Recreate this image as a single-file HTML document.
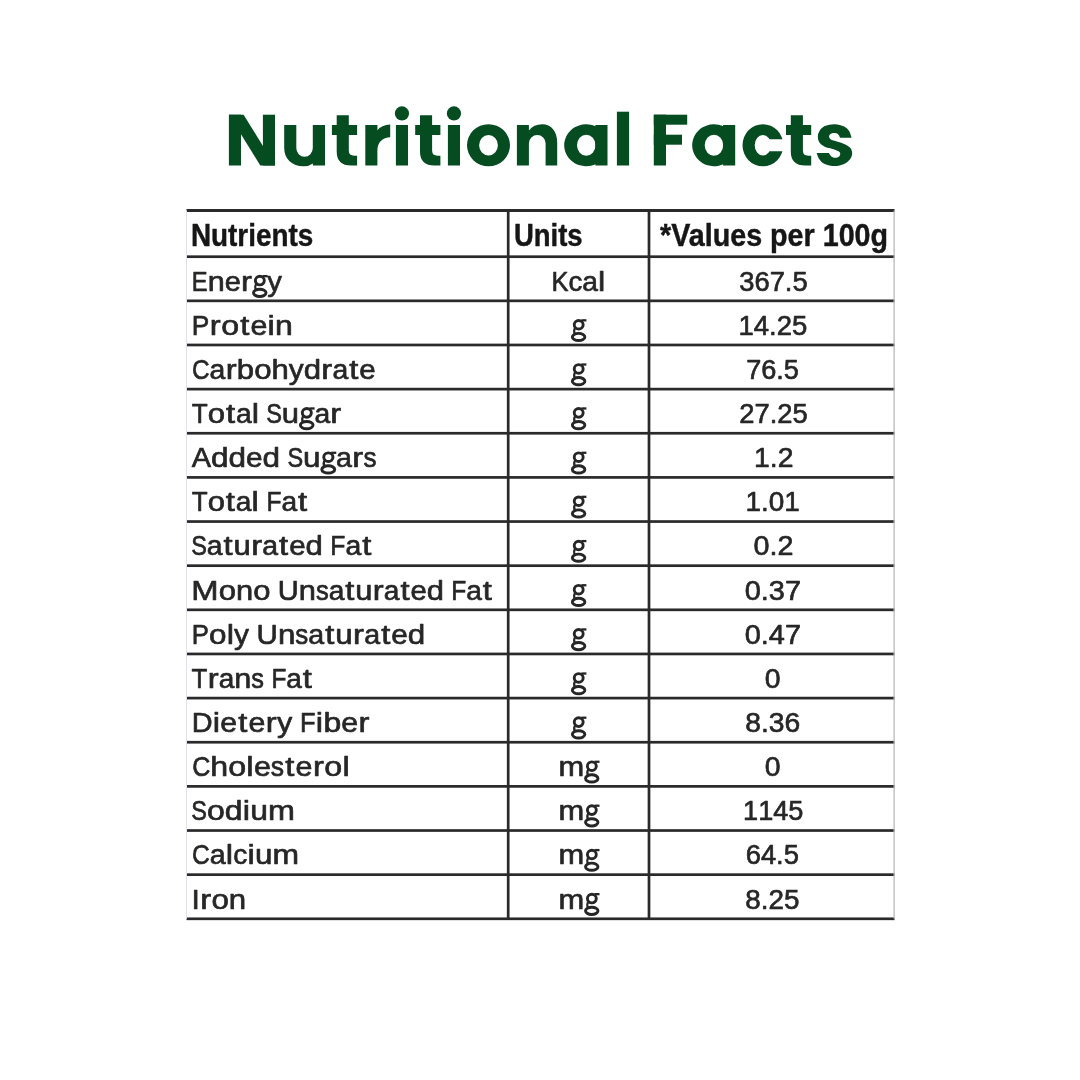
<!DOCTYPE html>
<html><head><meta charset="utf-8"><title>Nutritional Facts</title>
<style>
html,body{margin:0;padding:0;background:#fff;}
body{width:1080px;height:1080px;overflow:hidden;font-family:"Liberation Sans",sans-serif;}
svg{display:block;font-family:"Liberation Sans",sans-serif;}
</style></head>
<body>
<svg width="1080" height="1080" viewBox="0 0 1080 1080">
<rect width="1080" height="1080" fill="#ffffff"/>
<g id="title" fill="#054c20">
<rect x="228.90" y="114.70" width="12.10" height="50.80"/>
<rect x="262.90" y="114.70" width="12.10" height="50.80"/>
<path d="M228.9,114.7 H243.6 L275,165.5 H260.3 Z"/>
<path d="M284.2,125 H296.3 V148.0 A8.25,8.7 0 0 0 312.8,148.0 V125 H325 V165.5 H312.9 V163.4 Q309,166.3 303.5,166.3 C292,166.3 284.2,158.8 284.2,148 Z"/>
<path d="M336.70,115.3 H348.80 V125 H357.10 V135 H348.80 V150.6 Q348.80,155.8 354.20,155.8 H357.10 V165.5 H351.20 Q336.70,165.5 336.70,151.5 V135 H331.90 V125 H336.70 Z"/>
<rect x="365.30" y="125.00" width="12.10" height="40.50"/>
<path d="M372,130.5 H377.0 Q381.5,124.9 390.2,124.4 V137.2 Q378.8,137.8 377.0,149.6 H372 Z"/>
<rect x="395.90" y="125.00" width="12.10" height="40.50"/><circle cx="401.95" cy="113.4" r="7.1"/>
<path d="M420.00,115.3 H432.10 V125 H440.40 V135 H432.10 V150.6 Q432.10,155.8 437.50,155.8 H440.40 V165.5 H434.50 Q420.00,165.5 420.00,151.5 V135 H415.20 V125 H420.00 Z"/>
<rect x="447.90" y="125.00" width="12.10" height="40.50"/><circle cx="453.95" cy="113.4" r="7.1"/>
<path fill-rule="evenodd" d="M467.00,145.25 A21.50,21.05 0 1 0 510.00,145.25 A21.50,21.05 0 1 0 467.00,145.25 Z M479.10,145.25 A9.40,10.25 0 1 1 497.90,145.25 A9.40,10.25 0 1 1 479.10,145.25 Z"/>
<path d="M516.9,125 H528.9 V130.6 Q533.6,124.3 542.2,124.3 C551.2,124.3 557.2,131.5 557.2,142.5 V165.5 H545.6 V143.3 A8.35,8.3 0 0 0 528.9,143.3 V165.5 H516.9 Z"/>
<path fill-rule="evenodd" d="M596.20,126.51 A22.05,21.0 0 1 0 596.20,163.99 Z M577.00,145.25 A9.25,10.5 0 1 1 595.50,145.25 A9.25,10.5 0 1 1 577.00,145.25 Z"/><rect x="595.40" y="125.00" width="12.10" height="40.50"/>
<rect x="616.90" y="111.70" width="12.20" height="53.80"/>
<rect x="653.80" y="114.70" width="12.20" height="50.80"/>
<rect x="653.80" y="114.70" width="33.40" height="10.00"/>
<rect x="653.80" y="134.70" width="28.20" height="10.00"/>
<path fill-rule="evenodd" d="M723.90,126.58 A21.75,21.0 0 1 0 723.90,163.92 Z M704.70,145.25 A9.25,10.5 0 1 1 723.20,145.25 A9.25,10.5 0 1 1 704.70,145.25 Z"/><rect x="723.10" y="125.00" width="12.10" height="40.50"/>
<g clip-path="url(#cclip)"><path fill-rule="evenodd" d="M742.50,145.25 A20.40,21.05 0 1 0 783.30,145.25 A20.40,21.05 0 1 0 742.50,145.25 Z M754.70,145.25 A8.20,10.25 0 1 1 771.10,145.25 A8.20,10.25 0 1 1 754.70,145.25 Z"/></g>
<path d="M790.80,115.3 H802.90 V125 H811.20 V135 H802.90 V150.6 Q802.90,155.8 808.30,155.8 H811.20 V165.5 H805.30 Q790.80,165.5 790.80,151.5 V135 H786.00 V125 H790.80 Z"/>
<path d="M851.61,137.78 C851.19,136.67 850.36,133.01 849.11,131.11 C847.86,129.21 846.52,127.55 844.11,126.39 C841.70,125.23 837.91,124.21 834.67,124.17 C831.43,124.12 827.26,124.86 824.67,126.11 C822.07,127.36 820.24,129.81 819.11,131.67 C817.98,133.52 817.80,135.37 817.89,137.22 C817.98,139.07 818.54,141.20 819.67,142.78 C820.80,144.35 822.91,145.74 824.67,146.67 C826.43,147.59 828.19,147.69 830.22,148.33 C832.26,148.98 835.31,149.91 836.89,150.56 C838.46,151.20 839.11,151.67 839.67,152.22 C840.22,152.78 840.31,153.19 840.22,153.89 C840.13,154.58 839.94,155.74 839.11,156.39 C838.28,157.04 836.52,157.78 835.22,157.78 C833.93,157.78 832.40,157.18 831.33,156.39 C830.27,155.60 829.25,153.61 828.83,153.06 L816.61,153.06 C817.03,154.03 817.77,157.08 819.11,158.89 C820.45,160.69 822.07,162.69 824.67,163.89 C827.26,165.09 831.43,166.11 834.67,166.11 C837.91,166.11 841.52,165.09 844.11,163.89 C846.70,162.69 848.88,160.65 850.22,158.89 C851.56,157.13 852.17,155.19 852.17,153.33 C852.17,151.48 851.56,149.35 850.22,147.78 C848.88,146.20 846.33,144.95 844.11,143.89 C841.89,142.82 839.02,142.08 836.89,141.39 C834.76,140.69 832.58,140.32 831.33,139.72 C830.08,139.12 829.76,138.38 829.39,137.78 C829.02,137.18 828.97,136.71 829.11,136.11 C829.25,135.51 829.39,134.68 830.22,134.17 C831.06,133.66 832.81,133.06 834.11,133.06 C835.41,133.06 837.00,133.38 838.00,134.17 C839.00,134.95 839.76,137.18 840.11,137.78 Z"/>
</g>
<g id="table" filter="url(#soft)">
<rect x="186.5" y="210.5" width="708.0" height="708.30" fill="#ffffff"/>
<rect x="186.5" y="209.00" width="708.0" height="3.0" fill="#2a2a2a"/>
<rect x="186.5" y="255.35" width="708.0" height="2.7" fill="#2a2a2a"/>
<rect x="186.5" y="299.49" width="708.0" height="2.7" fill="#2a2a2a"/>
<rect x="186.5" y="343.63" width="708.0" height="2.7" fill="#2a2a2a"/>
<rect x="186.5" y="387.77" width="708.0" height="2.7" fill="#2a2a2a"/>
<rect x="186.5" y="431.91" width="708.0" height="2.7" fill="#2a2a2a"/>
<rect x="186.5" y="476.05" width="708.0" height="2.7" fill="#2a2a2a"/>
<rect x="186.5" y="520.19" width="708.0" height="2.7" fill="#2a2a2a"/>
<rect x="186.5" y="564.33" width="708.0" height="2.7" fill="#2a2a2a"/>
<rect x="186.5" y="608.47" width="708.0" height="2.7" fill="#2a2a2a"/>
<rect x="186.5" y="652.61" width="708.0" height="2.7" fill="#2a2a2a"/>
<rect x="186.5" y="696.75" width="708.0" height="2.7" fill="#2a2a2a"/>
<rect x="186.5" y="740.89" width="708.0" height="2.7" fill="#2a2a2a"/>
<rect x="186.5" y="785.03" width="708.0" height="2.7" fill="#2a2a2a"/>
<rect x="186.5" y="829.17" width="708.0" height="2.7" fill="#2a2a2a"/>
<rect x="186.5" y="873.31" width="708.0" height="2.7" fill="#2a2a2a"/>
<rect x="186.5" y="917.45" width="708.0" height="2.7" fill="#2a2a2a"/>
<rect x="506.85" y="210.5" width="2.7" height="708.30" fill="#2a2a2a"/>
<rect x="647.65" y="210.5" width="2.7" height="708.30" fill="#2a2a2a"/>
<rect x="186.0" y="210.5" width="1" height="708.30" fill="#dfe2ea"/>
<rect x="893.5" y="210.5" width="1.2" height="708.30" fill="#b4b4b4"/>
<g id="hdr" stroke="#161616" stroke-width="0.45" stroke-linejoin="round">
<text transform="translate(190.93 246.00) scale(0.8848 1)" font-size="31.5" font-weight="700" fill="#161616">Nutrients</text>
<text transform="translate(513.93 246.00) scale(0.8727 1)" font-size="31.5" font-weight="700" fill="#161616">Units</text>
<text transform="translate(660.00 246.00) scale(0.9111 1)" font-size="31.5" font-weight="700" fill="#161616">*Values per 100g</text>
</g>
<g id="body" font-size="28.0" fill="#262626" stroke="#262626" stroke-width="0.65" stroke-linejoin="round">
<text transform="translate(191.81 290.52) scale(0.8473 1.012)">E</text><text transform="translate(207.63 290.52) scale(1.0934 0.985)">n</text><text transform="translate(224.66 290.52) scale(1.0354 0.985)">e</text><text transform="translate(240.97 290.52) scale(1.1700 0.985)">r</text><use href="#cg" transform="translate(252.13 290.52) scale(0.9820 1)"/><text transform="translate(267.33 290.52) scale(1.0477 0.985)">y</text>
<text transform="translate(191.82 334.69) scale(0.9382 1.012)">P</text><text transform="translate(209.80 334.69) scale(1.1700 0.985)">r</text><text transform="translate(221.17 334.69) scale(1.1486 0.985)">o</text><text transform="translate(240.19 334.69) scale(1.1700 1.012)">t</text><text transform="translate(250.42 334.69) scale(1.0837 0.985)">e</text><text transform="translate(267.55 334.69) scale(1.1700 1.012)">i</text><text transform="translate(275.08 334.69) scale(1.1444 0.985)">n</text>
<text transform="translate(192.03 378.86) scale(0.8684 1.012)">C</text><text transform="translate(209.59 378.86) scale(1.0130 0.985)">a</text><text transform="translate(225.65 378.86) scale(1.1700 0.985)">r</text><text transform="translate(236.85 378.86) scale(1.1111 1.012)">b</text><text transform="translate(254.15 378.86) scale(1.1152 0.985)">o</text><text transform="translate(271.52 378.86) scale(1.1111 1.012)">h</text><text transform="translate(288.82 378.86) scale(1.0648 0.985)">y</text><text transform="translate(303.73 378.86) scale(1.1111 1.012)">d</text><text transform="translate(321.31 378.86) scale(1.1700 0.985)">r</text><text transform="translate(332.51 378.86) scale(1.0130 0.985)">a</text><text transform="translate(349.25 378.86) scale(1.1700 1.012)">t</text><text transform="translate(359.32 378.86) scale(1.0523 0.985)">e</text>
<text transform="translate(191.80 422.82) scale(0.9341 1.012)">T</text><text transform="translate(207.78 422.82) scale(1.1102 0.985)">o</text><text transform="translate(226.00 422.82) scale(1.1700 1.012)">t</text><text transform="translate(236.05 422.82) scale(1.0085 0.985)">a</text><text transform="translate(251.87 422.82) scale(1.1700 1.012)">l</text><text transform="translate(266.37 422.82) scale(0.8400 1.012)">S</text><text transform="translate(281.75 422.82) scale(1.1061 0.985)">u</text><use href="#cg" transform="translate(299.02 422.82) scale(0.9935 1)"/><text transform="translate(314.41 422.82) scale(1.0085 0.985)">a</text><text transform="translate(330.37 422.82) scale(1.1700 0.985)">r</text>
<text transform="translate(191.80 467.13) scale(1.0313 1.012)">A</text><text transform="translate(211.06 467.13) scale(1.1230 1.012)">d</text><text transform="translate(228.55 467.13) scale(1.1230 1.012)">d</text><text transform="translate(246.04 467.13) scale(1.0635 0.985)">e</text><text transform="translate(262.60 467.13) scale(1.1230 1.012)">d</text><text transform="translate(287.42 467.13) scale(0.8400 1.012)">S</text><text transform="translate(302.91 467.13) scale(1.1230 0.985)">u</text><use href="#cg" transform="translate(320.44 467.13) scale(1.0087 1)"/><text transform="translate(336.06 467.13) scale(1.0239 0.985)">a</text><text transform="translate(352.35 467.13) scale(1.1700 0.985)">r</text><text transform="translate(363.61 467.13) scale(0.9299 0.985)">s</text>
<text transform="translate(191.80 511.17) scale(0.9303 1.012)">T</text><text transform="translate(207.71 511.17) scale(1.1057 0.985)">o</text><text transform="translate(225.85 511.17) scale(1.1700 1.012)">t</text><text transform="translate(235.87 511.17) scale(1.0043 0.985)">a</text><text transform="translate(251.61 511.17) scale(1.1700 1.012)">l</text><text transform="translate(266.38 511.17) scale(0.8771 1.012)">F</text><text transform="translate(281.38 511.17) scale(1.0043 0.985)">a</text><text transform="translate(297.94 511.17) scale(1.1700 1.012)">t</text>
<text transform="translate(191.36 555.44) scale(0.8400 1.012)">S</text><text transform="translate(206.77 555.44) scale(1.0128 0.985)">a</text><text transform="translate(223.50 555.44) scale(1.1700 1.012)">t</text><text transform="translate(233.57 555.44) scale(1.1109 0.985)">u</text><text transform="translate(251.15 555.44) scale(1.1700 0.985)">r</text><text transform="translate(262.35 555.44) scale(1.0128 0.985)">a</text><text transform="translate(279.08 555.44) scale(1.1700 1.012)">t</text><text transform="translate(289.15 555.44) scale(1.0521 0.985)">e</text><text transform="translate(305.53 555.44) scale(1.1109 1.012)">d</text><text transform="translate(330.28 555.44) scale(0.8845 1.012)">F</text><text transform="translate(345.40 555.44) scale(1.0128 0.985)">a</text><text transform="translate(362.14 555.44) scale(1.1700 1.012)">t</text>
<text transform="translate(191.16 599.61) scale(1.1700 1.012)">M</text><text transform="translate(218.77 599.61) scale(1.1065 0.985)">o</text><text transform="translate(236.00 599.61) scale(1.1024 0.985)">n</text><text transform="translate(253.17 599.61) scale(1.1065 0.985)">o</text><text transform="translate(277.79 599.61) scale(1.0367 1.012)">U</text><text transform="translate(298.75 599.61) scale(1.1024 0.985)">n</text><text transform="translate(315.92 599.61) scale(0.9128 0.985)">s</text><text transform="translate(328.70 599.61) scale(1.0051 0.985)">a</text><text transform="translate(345.27 599.61) scale(1.1700 1.012)">t</text><text transform="translate(355.29 599.61) scale(1.1024 0.985)">u</text><text transform="translate(372.70 599.61) scale(1.1700 0.985)">r</text><text transform="translate(383.85 599.61) scale(1.0051 0.985)">a</text><text transform="translate(400.42 599.61) scale(1.1700 1.012)">t</text><text transform="translate(410.44 599.61) scale(1.0440 0.985)">e</text><text transform="translate(426.70 599.61) scale(1.1024 1.012)">d</text><text transform="translate(451.25 599.61) scale(0.8778 1.012)">F</text><text transform="translate(466.27 599.61) scale(1.0051 0.985)">a</text><text transform="translate(482.84 599.61) scale(1.1700 1.012)">t</text>
<text transform="translate(191.87 643.79) scale(0.9173 1.012)">P</text><text transform="translate(209.00 643.79) scale(1.1230 0.985)">o</text><text transform="translate(226.65 643.79) scale(1.1700 1.012)">l</text><text transform="translate(234.09 643.79) scale(1.0721 0.985)">y</text><text transform="translate(256.60 643.79) scale(1.0522 1.012)">U</text><text transform="translate(277.88 643.79) scale(1.1188 0.985)">n</text><text transform="translate(295.30 643.79) scale(0.9264 0.985)">s</text><text transform="translate(308.27 643.79) scale(1.0200 0.985)">a</text><text transform="translate(325.16 643.79) scale(1.1700 1.012)">t</text><text transform="translate(335.26 643.79) scale(1.1188 0.985)">u</text><text transform="translate(353.01 643.79) scale(1.1700 0.985)">r</text><text transform="translate(364.24 643.79) scale(1.0200 0.985)">a</text><text transform="translate(381.13 643.79) scale(1.1700 1.012)">t</text><text transform="translate(391.24 643.79) scale(1.0596 0.985)">e</text><text transform="translate(407.74 643.79) scale(1.1188 1.012)">d</text>
<text transform="translate(191.60 687.86) scale(0.9250 1.012)">T</text><text transform="translate(207.63 687.86) scale(1.1700 0.985)">r</text><text transform="translate(218.74 687.86) scale(0.9986 0.985)">a</text><text transform="translate(234.29 687.86) scale(1.0954 0.985)">n</text><text transform="translate(251.35 687.86) scale(0.9070 0.985)">s</text><text transform="translate(271.39 687.86) scale(0.8722 1.012)">F</text><text transform="translate(286.30 687.86) scale(0.9986 0.985)">a</text><text transform="translate(302.74 687.86) scale(1.1700 1.012)">t</text>
<text transform="translate(191.64 732.07) scale(1.0302 1.012)">D</text><text transform="translate(212.72 732.07) scale(1.1700 1.012)">i</text><text transform="translate(220.24 732.07) scale(1.0818 0.985)">e</text><text transform="translate(238.21 732.07) scale(1.1700 1.012)">t</text><text transform="translate(248.43 732.07) scale(1.0818 0.985)">e</text><text transform="translate(265.72 732.07) scale(1.1700 0.985)">r</text><text transform="translate(277.08 732.07) scale(1.0947 0.985)">y</text><text transform="translate(300.06 732.07) scale(0.9096 1.012)">F</text><text transform="translate(315.86 732.07) scale(1.1700 1.012)">i</text><text transform="translate(323.39 732.07) scale(1.1423 1.012)">b</text><text transform="translate(341.18 732.07) scale(1.0818 0.985)">e</text><text transform="translate(358.47 732.07) scale(1.1700 0.985)">r</text>
<text transform="translate(192.20 776.12) scale(0.8963 1.012)">C</text><text transform="translate(210.33 776.12) scale(1.1468 1.012)">h</text><text transform="translate(228.19 776.12) scale(1.1511 0.985)">o</text><text transform="translate(246.37 776.12) scale(1.1700 1.012)">l</text><text transform="translate(253.91 776.12) scale(1.0860 0.985)">e</text><text transform="translate(270.82 776.12) scale(0.9496 0.985)">s</text><text transform="translate(285.26 776.12) scale(1.1700 1.012)">t</text><text transform="translate(295.50 776.12) scale(1.0860 0.985)">e</text><text transform="translate(312.88 776.12) scale(1.1700 0.985)">r</text><text transform="translate(324.26 776.12) scale(1.1511 0.985)">o</text><text transform="translate(342.45 776.12) scale(1.1700 1.012)">l</text>
<text transform="translate(191.36 820.06) scale(0.8400 1.012)">S</text><text transform="translate(206.95 820.06) scale(1.1418 0.985)">o</text><text transform="translate(224.73 820.06) scale(1.1375 1.012)">d</text><text transform="translate(242.67 820.06) scale(1.1700 1.012)">i</text><text transform="translate(250.18 820.06) scale(1.1375 0.985)">u</text><text transform="translate(267.90 820.06) scale(1.1547 0.985)">m</text>
<text transform="translate(192.02 864.44) scale(0.8766 1.012)">C</text><text transform="translate(209.75 864.44) scale(1.0226 0.985)">a</text><text transform="translate(225.85 864.44) scale(1.1700 1.012)">l</text><text transform="translate(233.30 864.44) scale(1.0041 0.985)">c</text><text transform="translate(247.53 864.44) scale(1.1700 1.012)">i</text><text transform="translate(254.99 864.44) scale(1.1216 0.985)">u</text><text transform="translate(272.45 864.44) scale(1.1385 0.985)">m</text>
<text transform="translate(191.56 908.51) scale(1.0704 1.012)">I</text><text transform="translate(200.19 908.51) scale(1.1700 0.985)">r</text><text transform="translate(211.41 908.51) scale(1.1193 0.985)">o</text><text transform="translate(228.84 908.51) scale(1.1151 0.985)">n</text>
<text transform="translate(551.38 290.52) scale(0.9111 1.012)">K</text><text transform="translate(568.39 290.52) scale(0.9892 0.985)">c</text><text transform="translate(582.24 290.52) scale(1.0075 0.985)">a</text><text transform="translate(598.05 290.52) scale(1.1700 1.012)">l</text>
<use href="#cg" transform="translate(571.00 334.69) scale(0.9809 1)"/>
<use href="#cg" transform="translate(571.00 378.86) scale(0.9809 1)"/>
<use href="#cg" transform="translate(571.00 422.82) scale(0.9809 1)"/>
<use href="#cg" transform="translate(571.00 467.13) scale(0.9809 1)"/>
<use href="#cg" transform="translate(571.00 511.17) scale(0.9809 1)"/>
<use href="#cg" transform="translate(571.00 555.44) scale(0.9809 1)"/>
<use href="#cg" transform="translate(571.00 599.61) scale(0.9809 1)"/>
<use href="#cg" transform="translate(571.00 643.79) scale(0.9809 1)"/>
<use href="#cg" transform="translate(571.00 687.86) scale(0.9809 1)"/>
<use href="#cg" transform="translate(571.00 732.07) scale(0.9809 1)"/>
<text transform="translate(558.40 776.12) scale(1.1031 0.985)">m</text><use href="#cg" transform="translate(584.18 776.12) scale(0.9760 1)"/>
<text transform="translate(558.40 820.06) scale(1.1031 0.985)">m</text><use href="#cg" transform="translate(584.18 820.06) scale(0.9760 1)"/>
<text transform="translate(558.40 864.44) scale(1.1031 0.985)">m</text><use href="#cg" transform="translate(584.18 864.44) scale(0.9760 1)"/>
<text transform="translate(558.40 908.51) scale(1.1031 0.985)">m</text><use href="#cg" transform="translate(584.18 908.51) scale(0.9760 1)"/>
<text transform="translate(739.22 290.52) scale(0.9770 0.985)">3</text><text transform="translate(754.44 290.52) scale(0.9770 0.985)">6</text><text transform="translate(769.65 290.52) scale(0.9770 0.985)">7</text><text transform="translate(784.87 290.52) scale(0.9741 0.985)">.</text><text transform="translate(792.44 290.52) scale(0.9770 0.985)">5</text>
<text transform="translate(738.43 334.69) scale(0.9826 0.985)">1</text><text transform="translate(753.74 334.69) scale(0.9826 0.985)">4</text><text transform="translate(769.04 334.69) scale(0.9797 0.985)">.</text><text transform="translate(776.66 334.69) scale(0.9826 0.985)">2</text><text transform="translate(791.96 334.69) scale(0.9826 0.985)">5</text>
<text transform="translate(746.13 378.86) scale(0.9688 0.985)">7</text><text transform="translate(761.22 378.86) scale(0.9688 0.985)">6</text><text transform="translate(776.30 378.86) scale(0.9659 0.985)">.</text><text transform="translate(783.82 378.86) scale(0.9688 0.985)">5</text>
<text transform="translate(739.22 422.82) scale(0.9770 0.985)">2</text><text transform="translate(754.44 422.82) scale(0.9770 0.985)">7</text><text transform="translate(769.65 422.82) scale(0.9741 0.985)">.</text><text transform="translate(777.23 422.82) scale(0.9770 0.985)">2</text><text transform="translate(792.44 422.82) scale(0.9770 0.985)">5</text>
<text transform="translate(754.07 467.13) scale(1.0130 0.985)">1</text><text transform="translate(769.85 467.13) scale(1.0100 0.985)">.</text><text transform="translate(777.71 467.13) scale(1.0130 0.985)">2</text>
<text transform="translate(745.51 511.17) scale(0.9961 0.985)">1</text><text transform="translate(761.02 511.17) scale(0.9932 0.985)">.</text><text transform="translate(768.75 511.17) scale(0.9961 0.985)">0</text><text transform="translate(784.26 511.17) scale(0.9961 0.985)">1</text>
<text transform="translate(753.57 555.44) scale(1.0260 0.985)">0</text><text transform="translate(769.55 555.44) scale(1.0230 0.985)">.</text><text transform="translate(777.51 555.44) scale(1.0260 0.985)">2</text>
<text transform="translate(744.77 599.61) scale(1.0321 0.985)">0</text><text transform="translate(760.84 599.61) scale(1.0290 0.985)">.</text><text transform="translate(768.85 599.61) scale(1.0321 0.985)">3</text><text transform="translate(784.92 599.61) scale(1.0321 0.985)">7</text>
<text transform="translate(744.77 643.79) scale(1.0321 0.985)">0</text><text transform="translate(760.84 643.79) scale(1.0290 0.985)">.</text><text transform="translate(768.85 643.79) scale(1.0321 0.985)">4</text><text transform="translate(784.92 643.79) scale(1.0321 0.985)">7</text>
<text transform="translate(764.79 687.86) scale(1.0143 0.985)">0</text>
<text transform="translate(745.19 732.07) scale(1.0094 0.985)">8</text><text transform="translate(760.91 732.07) scale(1.0064 0.985)">.</text><text transform="translate(768.74 732.07) scale(1.0094 0.985)">3</text><text transform="translate(784.46 732.07) scale(1.0094 0.985)">6</text>
<text transform="translate(764.79 776.12) scale(1.0143 0.985)">0</text>
<text transform="translate(743.06 820.06) scale(0.9696 0.985)">1</text><text transform="translate(758.16 820.06) scale(0.9696 0.985)">1</text><text transform="translate(773.26 820.06) scale(0.9696 0.985)">4</text><text transform="translate(788.36 820.06) scale(0.9696 0.985)">5</text>
<text transform="translate(745.67 864.44) scale(0.9773 0.985)">6</text><text transform="translate(760.89 864.44) scale(0.9773 0.985)">4</text><text transform="translate(776.11 864.44) scale(0.9744 0.985)">.</text><text transform="translate(783.69 864.44) scale(0.9773 0.985)">5</text>
<text transform="translate(745.21 908.51) scale(0.9943 0.985)">8</text><text transform="translate(760.69 908.51) scale(0.9914 0.985)">.</text><text transform="translate(768.40 908.51) scale(0.9943 0.985)">2</text><text transform="translate(783.89 908.51) scale(0.9943 0.985)">5</text>
</g>
</g>
<defs><clipPath id="cclip"><path d="M740,120 H790 V139.2 H764 V151.3 H790 V170 H740 Z"/></clipPath><g id="cg" fill="none" stroke="#262626" stroke-width="2.95" stroke-linecap="butt"><ellipse cx="7.85" cy="-9.95" rx="4.55" ry="4.3"/><ellipse cx="7.75" cy="2.3" rx="6.4" ry="3.6"/><path d="M10.6,-14.35 H15.7" stroke-width="2.3"/><path d="M4.3,-7.0 Q2.2,-3.6 4.0,-0.6" stroke-width="2.2"/></g><filter id="soft" x="-2%" y="-2%" width="104%" height="104%"><feGaussianBlur stdDeviation="0.7"/></filter></defs>
</svg>
</body></html>
